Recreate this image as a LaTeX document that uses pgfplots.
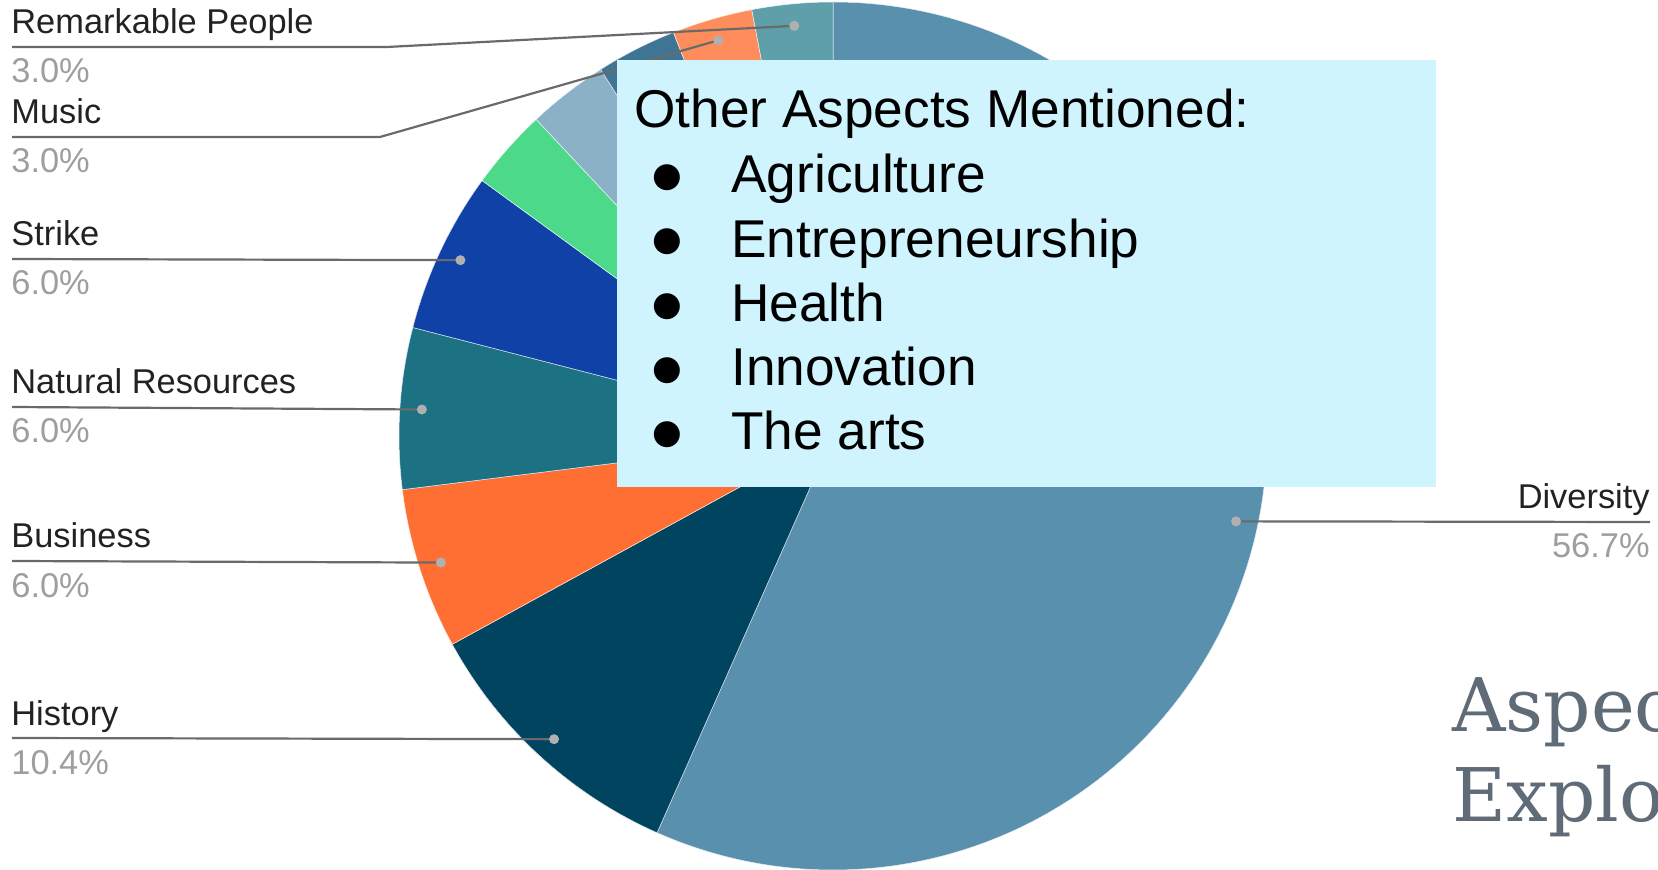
\documentclass[border=0pt]{standalone}
\usepackage{pgfplots}
\pgfplotsset{compat=1.18}
\usepackage{pgfplotstable}
\usepackage{fontspec}
\setmainfont{Liberation Sans}
\newfontfamily\ttlfont{DejaVu Serif}
\newfontfamily\symf{DejaVu Sans}

\definecolor{cDiv}{HTML}{5890AD}
\definecolor{cHis}{HTML}{004460}
\definecolor{cBus}{HTML}{FF6F33}
\definecolor{cNat}{HTML}{1C7282}
\definecolor{cStr}{HTML}{1041A6}
\definecolor{cGrn}{HTML}{4CD98A}
\definecolor{cLbl}{HTML}{8BB1C6}
\definecolor{cDtl}{HTML}{3F7594}
\definecolor{cMus}{HTML}{FF8D5C}
\definecolor{cRem}{HTML}{5E9FA9}
\definecolor{cLine}{HTML}{6A6A6A}
\definecolor{cDot}{HTML}{B0B0B0}
\definecolor{cName}{HTML}{222222}
\definecolor{cPct}{HTML}{9E9E9E}
\definecolor{cBox}{HTML}{CFF4FD}
\definecolor{cTtl}{HTML}{5F6B77}

\pgfplotstableread[col sep=comma]{
name,value,col,side,ly,bx
Diversity,56.7,cDiv,R,522,0
History,10.4,cHis,L,738,0
Business,6.0,cBus,L,561,0
Natural Resources,6.0,cNat,L,407,0
Strike,6.0,cStr,L,259,0
Other A,3.0,cGrn,N,0,0
Other B,3.0,cLbl,N,0,0
Other C,3.0,cDtl,N,0,0
Music,3.0,cMus,L,137,380
Remarkable People,3.0,cRem,L,47,387
}\piedata

\def\sL{L}
\def\sR{R}
\newcommand\lblfont{\fontsize{17.2}{20}\selectfont}

\begin{document}
\begin{tikzpicture}
\useasboundingbox (0,0) rectangle (829pt,435pt);
\clip (0,0) rectangle (829pt,435pt);
\begin{axis}[
  hide axis, x=0.5pt, y=0.5pt, y dir=reverse,
  xmin=0, xmax=1658, ymin=0, ymax=870,
  clip=false, anchor=south west, at={(0,0)},
]
\pgfplotsextra{%
  \pgfplotstablegetrowsof{\piedata}%
  \pgfmathtruncatemacro\lastrow{\pgfplotsretval-1}%
  \def\tot{0}%
  \pgfplotsforeachungrouped \i in {0,...,\lastrow}{%
    \pgfplotstablegetelem{\i}{value}\of\piedata
    \pgfmathsetmacro\tot{\tot+\pgfplotsretval}}%
  \pgfmathsetmacro\degper{360/\tot}%
  % slices
  \def\cum{0}%
  \pgfplotsforeachungrouped \i in {0,...,\lastrow}{%
    \pgfplotstablegetelem{\i}{value}\of\piedata \edef\val{\pgfplotsretval}%
    \pgfplotstablegetelem{\i}{col}\of\piedata \edef\col{\pgfplotsretval}%
    \pgfmathsetmacro\aS{90-\degper*\cum}%
    \pgfmathsetmacro\aE{90-\degper*(\cum+\val)}%
    \fill[\col, draw=white!85!\col, line width=0.25pt] (axis cs:833,436) -- ++(\aS:217pt)
      arc[start angle=\aS, end angle=\aE, radius=217pt] -- cycle;
    \pgfmathsetmacro\cum{\cum+\val}}%
  % leaders and labels
  \def\cum{0}%
  \pgfplotsforeachungrouped \i in {0,...,\lastrow}{%
    \pgfplotstablegetelem{\i}{value}\of\piedata \edef\val{\pgfplotsretval}%
    \pgfplotstablegetelem{\i}{name}\of\piedata \edef\nm{\pgfplotsretval}%
    \pgfplotstablegetelem{\i}{side}\of\piedata \edef\side{\pgfplotsretval}%
    \pgfplotstablegetelem{\i}{ly}\of\piedata \edef\ly{\pgfplotsretval}%
    \pgfplotstablegetelem{\i}{bx}\of\piedata \edef\bx{\pgfplotsretval}%
    \pgfmathsetmacro\aM{90-\degper*(\cum+\val/2)}%
    \pgfmathsetmacro\yt{\ly-13}%
    \pgfmathsetmacro\yp{\ly+36}%
    \path (axis cs:833,436) ++(\aM:206pt) coordinate (dot);
    \ifx\side\sL
      \ifdim\bx pt>0pt
        \draw[cLine, line width=1.1pt] (axis cs:12,\ly) -- (axis cs:\bx,\ly) -- (dot);
      \else
        \draw[cLine, line width=1.1pt] (axis cs:12,\ly) -- (dot);
      \fi
      \fill[cDot] (dot) circle (2.5pt);
      \node[anchor=base west, inner sep=0pt, text=cName, font=\lblfont] at (axis cs:11,\yt) {\nm};
      \node[anchor=base west, inner sep=0pt, text=cPct, font=\lblfont] at (axis cs:11,\yp) {\val\%};
    \fi
    \ifx\side\sR
      \draw[cLine, line width=1.1pt] (dot) -- (axis cs:1650,\ly);
      \fill[cDot] (dot) circle (2.5pt);
      \node[anchor=base east, inner sep=0pt, text=cName, font=\lblfont] at (axis cs:1650,\yt) {\nm};
      \node[anchor=base east, inner sep=0pt, text=cPct, font=\lblfont] at (axis cs:1650,\yp) {\val\%};
    \fi
    \pgfmathsetmacro\cum{\cum+\val}}%
}
\end{axis}
\begin{scope}[x=0.5pt, y=-0.5pt, shift={(0,435pt)}]
  \fill[cBox] (617,60) rectangle (1436,487);
  \node[anchor=base west, inner sep=0pt, font=\fontsize{26.6}{31}\selectfont] at (634,128) {Other Aspects Mentioned:};
  \foreach \t [count=\k from 0] in {Agriculture, Entrepreneurship, Health, Innovation, The arts}{
    \pgfmathsetmacro\yb{193+64.2*\k}
    \node[anchor=center, inner sep=0pt, font=\symf\fontsize{17}{20}\selectfont] at (667,\yb-15) {●};
    \node[anchor=base west, inner sep=0pt, font=\fontsize{26.6}{31}\selectfont] at (731,\yb) {\t};
  }
  \node[anchor=base west, inner sep=0pt, text=cTtl, font=\ttlfont\fontsize{37}{44}\selectfont] at (1452,732) {Aspects};
  \node[anchor=base west, inner sep=0pt, text=cTtl, font=\ttlfont\fontsize{37}{44}\selectfont] at (1452,822) {Explored};
\end{scope}
\end{tikzpicture}
\end{document}
